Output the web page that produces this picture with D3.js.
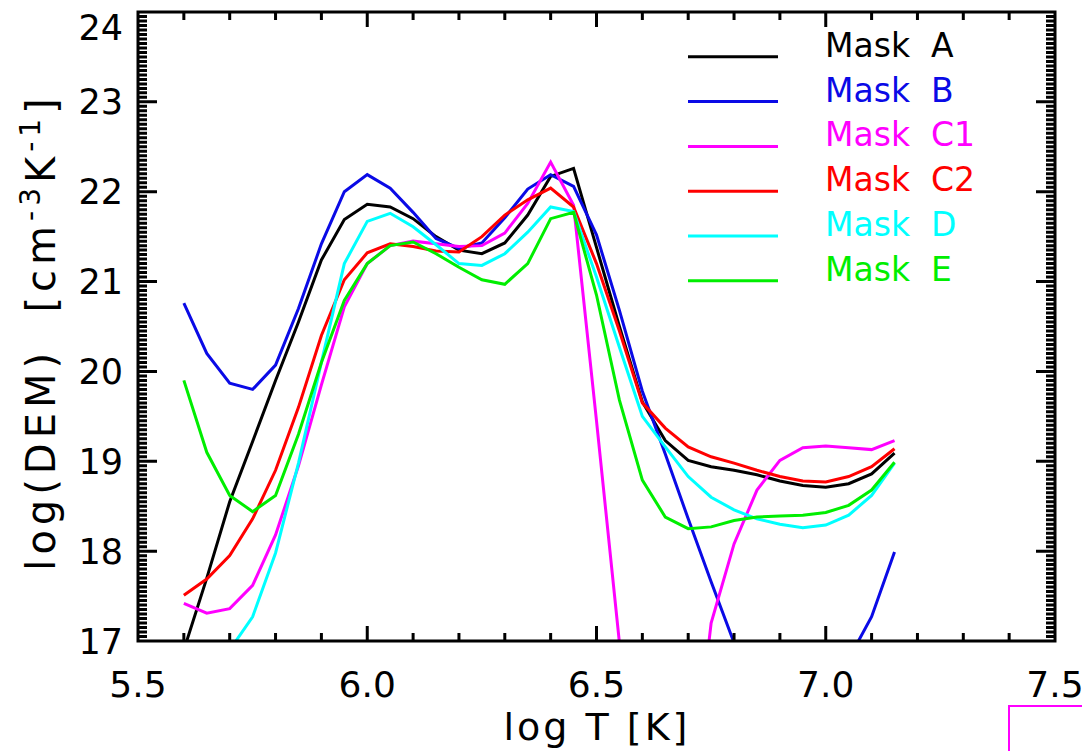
<!DOCTYPE html>
<html>
<head>
<meta charset="utf-8">
<script src="https://cdn.jsdelivr.net/npm/d3@7"></script>
<style>
  body { margin: 0; background: #fff; }
  text { font-family: "DejaVu Sans", sans-serif; }
</style>
</head>
<body>
<div id="chart"></div>
<script>
// log T grid (0.05 steps)
var logT = [5.60,5.65,5.70,5.75,5.80,5.85,5.90,5.95,6.00,6.05,6.10,6.15,6.20,6.25,6.30,6.35,
            6.40,6.45,6.50,6.55,6.60,6.65,6.70,6.75,6.80,6.85,6.90,6.95,7.00,7.05,7.10,7.15];

// log(DEM) per mask (values < 17 fall below the plot)
var maskA  = [16.90,17.70,18.55,19.22,19.90,20.55,21.24,21.69,21.86,21.83,21.70,21.50,21.35,21.31,21.43,21.74,
              22.17,22.26,21.38,20.50,19.66,19.23,19.01,18.94,18.90,18.85,18.78,18.73,18.71,18.75,18.86,19.09];
var maskB  = [20.76,20.20,19.87,19.80,20.07,20.70,21.42,22.00,22.19,22.04,21.77,21.48,21.37,21.43,21.71,22.03,
              22.19,22.06,21.52,20.68,19.78,19.08,18.36,17.66,16.98,16.30,15.90,15.80,15.90,16.80,17.27,17.99];
var maskC1 = [17.42,17.31,17.36,17.62,18.18,18.95,19.85,20.72,21.20,21.40,21.45,21.42,21.39,21.40,21.54,21.87,
              22.33,21.85,19.45,16.98,14.50,14.00,15.00,17.20,18.08,18.68,19.01,19.15,19.17,19.15,19.13,19.23];
var maskC2 = [17.51,17.69,17.95,18.36,18.90,19.60,20.40,21.02,21.32,21.42,21.39,21.34,21.33,21.50,21.74,21.91,
              22.04,21.83,21.20,20.45,19.65,19.37,19.16,19.05,18.98,18.90,18.83,18.78,18.77,18.83,18.94,19.14];
var maskD  = [16.97,16.50,16.90,17.27,17.98,18.98,20.10,21.20,21.67,21.76,21.61,21.41,21.20,21.18,21.31,21.55,
              21.83,21.78,21.05,20.27,19.50,19.16,18.83,18.60,18.46,18.36,18.30,18.26,18.29,18.40,18.62,18.98];
var maskE  = [19.90,19.10,18.62,18.44,18.62,19.30,20.10,20.79,21.20,21.40,21.44,21.31,21.16,21.02,20.97,21.20,
              21.70,21.77,20.85,19.68,18.79,18.38,18.25,18.27,18.34,18.38,18.39,18.40,18.43,18.51,18.68,18.99];

var names  = ["Mask  A","Mask  B","Mask  C1","Mask  C2","Mask  D","Mask  E"];
var colors = ["#000000","#0a0ae6","#ff00ff","#ff0000","#00ffff","#00ee00"];
var series = [maskA, maskB, maskC1, maskC2, maskD, maskE];

var xTicks = [5.5, 6.0, 6.5, 7.0, 7.5];
var yTicks = [17, 18, 19, 20, 21, 22, 23, 24];

var width = 1082, height = 751;
var pLeft = 138, pRight = 1055, pTop = 12, pBottom = 641;

var svg = d3.select("#chart").append("svg")
    .attr("width", width)
    .attr("height", height);

var x = d3.scaleLinear().domain([5.5, 7.5]).range([pLeft, pRight]);
var y = d3.scaleLinear().domain([17, 24]).range([pBottom, pTop]);

// curves, clipped by a nested svg viewport
var plot = svg.append("svg")
    .attr("x", pLeft).attr("y", pTop)
    .attr("width", pRight - pLeft).attr("height", pBottom - pTop)
    .attr("viewBox", [pLeft, pTop, pRight - pLeft, pBottom - pTop].join(" "))
    .style("overflow", "hidden");

var line = d3.line()
    .x(function(d, i) { return x(logT[i]); })
    .y(function(d) { return y(d); });

plot.selectAll("path")
  .data(series)
  .enter().append("path")
    .attr("d", line)
    .attr("fill", "none")
    .attr("stroke", function(d, i) { return colors[i]; })
    .attr("stroke-width", 3);

// frame plus inward ticks on all four sides, in a single path
var xMinor = d3.range(5.5, 7.5001, 0.1);
var yMinor = d3.range(17, 24.0001, 0.05);

var frame = d3.path();
frame.rect(pLeft, pTop, pRight - pLeft, pBottom - pTop);
function addTicks(xs, xLen, ys, yLen) {
  xs.forEach(function(v) {
    var px = x(v);
    frame.moveTo(px, pBottom); frame.lineTo(px, pBottom - xLen);
    frame.moveTo(px, pTop);    frame.lineTo(px, pTop + xLen);
  });
  ys.forEach(function(v) {
    var py = y(v);
    frame.moveTo(pLeft, py);  frame.lineTo(pLeft + yLen, py);
    frame.moveTo(pRight, py); frame.lineTo(pRight - yLen, py);
  });
}
addTicks(xMinor, 8, yMinor, 9);
addTicks(xTicks, 15, yTicks, 19);

svg.append("path")
    .attr("d", frame.toString())
    .attr("fill", "none")
    .attr("stroke", "#000")
    .attr("stroke-width", 3);

// tick labels (IDL pushes the top label down inside the window)
svg.append("g").selectAll("text")
  .data(xTicks)
  .enter().append("text")
    .attr("x", function(d) { return x(d); })
    .attr("y", pBottom + 56)
    .attr("text-anchor", "middle")
    .attr("font-size", 36)
    .text(d3.format(".1f"));

svg.append("g").selectAll("text")
  .data(yTicks)
  .enter().append("text")
    .attr("x", pLeft - 15)
    .attr("y", function(d) { return Math.max(y(d), 27); })
    .attr("dy", "0.36em")
    .attr("text-anchor", "end")
    .attr("font-size", 35)
    .text(d3.format("d"));

// axis titles
svg.append("text")
    .attr("x", 597).attr("y", 740)
    .attr("text-anchor", "middle")
    .attr("font-size", 38)
    .attr("letter-spacing", 3)
    .style("white-space", "pre")
    .text("log T [K]");

var yt = svg.append("text")
    .attr("transform", "translate(55,332) rotate(-90)")
    .attr("text-anchor", "middle")
    .attr("font-size", 40)
    .attr("letter-spacing", 5)
    .style("white-space", "pre");
yt.append("tspan").text("log(DEM)  [cm");
yt.append("tspan").attr("dy", -15).attr("font-size", 28).text("-3");
yt.append("tspan").attr("dy", 15).text("K");
yt.append("tspan").attr("dy", -15).attr("font-size", 28).text("-1");
yt.append("tspan").attr("dy", 15).text("]");

// legend
var leg = svg.append("g").selectAll("g")
  .data(names)
  .enter().append("g")
    .attr("transform", function(d, i) { return "translate(0," + (56.8 + i * 44.8) + ")"; });
leg.append("line")
    .attr("x1", 688).attr("x2", 778)
    .attr("stroke", function(d, i) { return colors[i]; })
    .attr("stroke-width", 3);
leg.append("text")
    .attr("x", 825).attr("y", 0)
    .attr("font-size", 33)
    .style("white-space", "pre")
    .attr("fill", function(d, i) { return colors[i]; })
    .text(function(d) { return d; });

// stray frame from the neighbouring panel
svg.append("rect")
    .attr("x", 1009).attr("y", 706)
    .attr("width", 120).attr("height", 100)
    .attr("fill", "none").attr("stroke", "#ff00ff").attr("stroke-width", 2);
</script>
</body>
</html>
